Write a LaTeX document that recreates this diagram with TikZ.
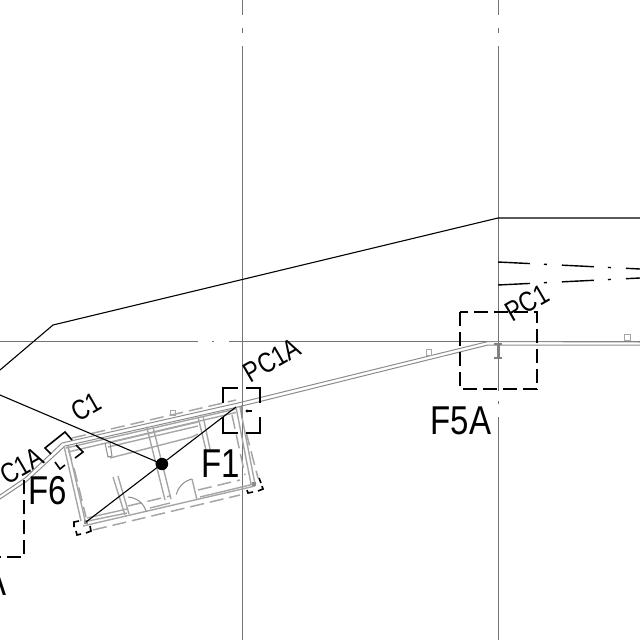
\documentclass[tikz,border=0pt]{standalone}
\usepackage{graphicx}
\usepackage{fontspec}
\setmainfont{Liberation Sans}
\newcommand{\tall}[1]{\scalebox{1}[1.22]{#1}}
\tikzset{x=1pt,y=-1pt,
 axis/.style={draw=black!55,line width=0.95pt},
 thin line/.style={draw=black,line width=1.1pt},
 wall/.style={draw=black!45,line width=1pt},
 wallb/.style={draw=black!35,line width=1.4pt},
 walld/.style={draw=black!35,line width=1.5pt,dash pattern=on 14pt off 6pt},
 box/.style={draw=black,line width=1.4pt,dash pattern=on 14pt off 6pt},
 corner/.style={draw=black,line width=1.6pt},
 fl/.style={font=\fontsize{33}{33}\selectfont,inner sep=0pt},
 pl/.style={font=\fontsize{23}{23}\selectfont,inner sep=0pt,rotate=30},
 dc/.style={draw=black,line width=1.4pt,dash pattern=on 32pt off 14pt on 3pt off 15pt}}
\begin{document}
\begin{tikzpicture}
\useasboundingbox (0,0) rectangle (640,640);
% axes
\draw[axis] (242,0)--(242,15) (242,28)--(242,33) (242,46)--(242,640);
\draw[axis] (498,0)--(498,15) (498,28)--(498,33) (498,46)--(498,391) (498,401)--(498,404) (498,417)--(498,640);
\draw[axis] (0,341)--(198,341) (212,341)--(214,341) (229,341)--(640,341);
% outline
\coordinate (o0) at (0,370); \coordinate (o1) at (53,325); \coordinate (o2) at (498,218); \coordinate (o3) at (640,218);
\draw[thin line] (o0)--(o1)--(o2)--(o3);
\draw[dc] (498,262)--(640,269);
\draw[dc] (498,285)--(640,278);
% main wall
\draw[wall] (0,495)--(25,478)--(62,443)--(238,403)--(488,341.5)--(640,342);
\draw[wall] (0,499)--(27,481)--(65,446)--(238,407)--(488,345)--(640,345);
\draw[wallb] (66,448)--(236,409);
\draw[wallb] (68,452)--(236,412.5);
\draw[walld] (72,438)--(236,400);
% left wall
\draw[wallb] (64,446)--(81,521);
\draw[wallb] (68,446)--(85,520);
\draw[walld] (74,468)--(86,517);
\draw[walld] (68,447)--(72,462);
% right wall
\draw[wallb] (236,407)--(251,484);
\draw[wallb] (240,407)--(255,484);
\draw[walld] (246,432)--(258,478);
\draw[walld] (232,415)--(245,475);
% bottom wall
\draw[wallb] (83,526)--(255,486);
\draw[wallb] (88,521)--(127,513) (150,508)--(170,503) (200,497)--(254,484);
\draw[wallb] (87,518)--(127,509);
\draw[walld] (128,506)--(170,496);
\draw[walld] (198,490)--(240,480);
\draw[walld] (93,530)--(240,495);
% partitions
\draw[wallb] (147,428)--(165,500) (153,427)--(171,499);
\draw[wallb] (198,417)--(206,450) (203,416)--(210,449);
\draw[wallb] (113,477)--(125,515) (118,476)--(129,514);
\draw[wallb] (108,443)--(198,422) (108,447)--(198,426);
\draw[wallb] (110,458)--(192,437)--(198,434);
\draw[wall] (105,443)--(108,457)--(112,456)--(110,443);
% doors
\draw[wall] (128,497) arc[start angle=-87,end angle=-15,radius=20];
\draw[wall] (192,479) arc[start angle=-103,end angle=-166,radius=21];
\draw[wallb] (192,479)--(197,500);
% small squares
\draw[wallb,line width=0.9pt] (170,410) rectangle (175,415);
\draw[wallb,line width=0.9pt] (426,349) rectangle (431,355);
\draw[wallb,line width=0.9pt] (624,334) rectangle (630,340);
\fill[black!45] (84,520) rectangle (88,524);
\fill[black!45] (252,482) rectangle (256,486);
% I-beams
\draw[draw=black!50,line width=3pt] (498,345)--(498,358);
\draw[draw=black!50,line width=1.2pt] (494,344)--(502,344) (494,358)--(502,358);
\draw[draw=black!45,line width=2pt] (242,405)--(242,418);
% leaders
\coordinate (c) at (162,464);
\coordinate (a1) at (86,522); \coordinate (a2) at (236,407); \coordinate (a3) at (0,395);
\draw[thin line] (a1)--(a2) (a3)--(c);
\fill[black] (c) circle (6.2);
% column mark
\draw[black,line width=1.2pt] (246,411)--(252,411);
\fill[black] (247,411) circle (1.6);
% dashed boxes
\draw[box] (460,312) rectangle (537,389);
\draw[corner] (238,388)--(223,388)--(223,403) (223,417)--(223,433)--(238,433) (246,433)--(260,433)--(260,417) (260,403)--(260,388)--(246,388);
\draw[box] (24,480)--(24,557)--(0,557);
\draw[corner] (50,444)--(65,432)--(72,440) (76,445)--(83,452)--(75,458) (65,465)--(60,469)--(55,462) (51,454)--(45,448)--(50,444);
\draw[corner] (74,527)--(74,522)--(79,521) (90,526)--(91,531)--(86,533) (81,534)--(77,535)--(76,531);
\draw[corner] (259,478)--(261,483) (262,486)--(263,489)--(258,491) (253,492)--(248,493)--(247,490);
% labels
\node[fl] (f5a) at (461,421) {\tall{F5A}};
\node[fl] (f1) at (221,464) {\tall{F1}};
\node[fl] (f6) at (48,491) {\tall{F6}};
\node[fl,anchor=east] (fa) at (7,582) {\tall{A}};
\node[pl] (pc1) at (527,303) {\tall{PC1}};
\node[pl] (pc1a) at (272,360) {\tall{PC1A}};
\node[pl] (c1) at (86,407) {\tall{C1}};
\node[pl] (c1a) at (22,466) {\tall{C1A}};
\end{tikzpicture}
\end{document}
